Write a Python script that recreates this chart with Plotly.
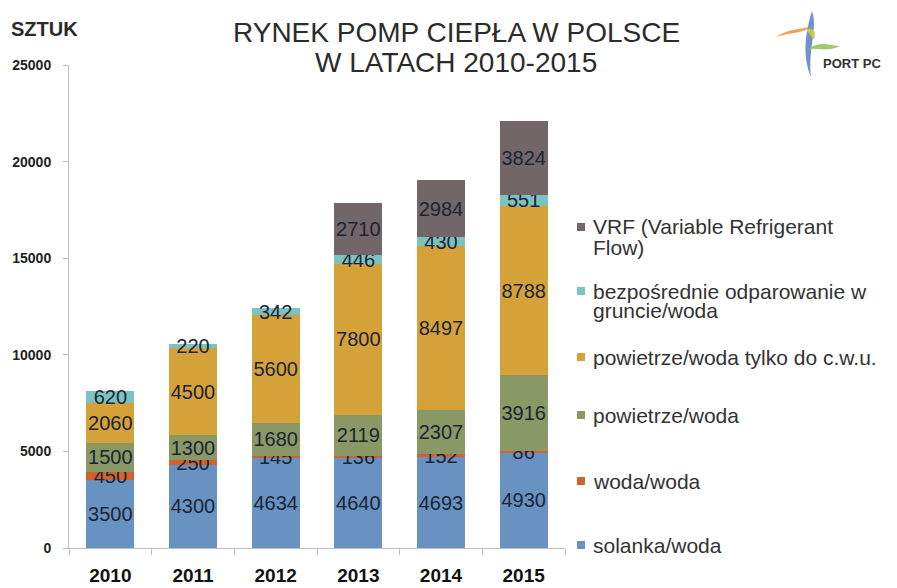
import plotly.graph_objects as go

years = ["2010", "2011", "2012", "2013", "2014", "2015"]
series_names = [
    "solanka/woda",
    "woda/woda",
    "powietrze/woda",
    "powietrze/woda tylko do c.w.u.",
    "bezpośrednie odparowanie w gruncie/woda",
    "VRF (Variable Refrigerant Flow)",
]
legend_lines = [
    ["solanka/woda"],
    ["woda/woda"],
    ["powietrze/woda"],
    ["powietrze/woda tylko do c.w.u."],
    ["bezpośrednie odparowanie w", "gruncie/woda"],
    ["VRF (Variable Refrigerant", "Flow)"],
]
solanka_woda = [3500, 4300, 4634, 4640, 4693, 4930]
woda_woda = [450, 250, 145, 136, 152, 86]
powietrze_woda = [1500, 1300, 1680, 2119, 2307, 3916]
powietrze_cwu = [2060, 4500, 5600, 7800, 8497, 8788]
bezposrednie = [620, 220, 342, 446, 430, 551]
vrf = [0, 0, 0, 2710, 2984, 3824]
y_ticks = [0, 5000, 10000, 15000, 20000, 25000]

all_series = [solanka_woda, woda_woda, powietrze_woda, powietrze_cwu, bezposrednie, vrf]
colors = ["#6792c2", "#d0622f", "#8a9866", "#d5a23a", "#7cc2bf", "#726669"]

FONT = "Liberation Sans, Arial, sans-serif"
OFF = 8  # page body margin offset
SW, SH = 897, 588
W, H = SW - OFF, SH - OFF
# plot area in screen pixels
L, R, T, B = 69, 565, 65, 548


def px(x):
    return (x - L) / (R - L)


def py(y):
    return (B - y) / (B - T)


fig = go.Figure()
for name, vals, col in zip(series_names, all_series, colors):
    fig.add_trace(go.Bar(
        x=years,
        y=[v if v else None for v in vals],
        name=name,
        marker=dict(color=col, line=dict(width=0)),
        text=[str(v) if v else "" for v in vals],
        textposition="inside",
        insidetextanchor="middle",
        textangle=0,
        textfont=dict(family=FONT, size=20, color="#1c2534"),
        showlegend=False,
        hoverinfo="x+y+name",
    ))

annotations = []
shapes = []

# Title (two lines)
for txt, yc in [("RYNEK POMP CIEPŁA W POLSCE", 32.5), ("W LATACH 2010-2015", 62.5)]:
    annotations.append(dict(
        text=txt, x=px(456), y=py(yc), xref="paper", yref="paper",
        xanchor="center", yanchor="middle", showarrow=False,
        font=dict(family=FONT, size=28, color="#2b2b2b"),
    ))
# Axis unit
annotations.append(dict(
    text="<b>SZTUK</b>", x=px(9), y=py(29), xref="paper", yref="paper",
    xanchor="left", yanchor="middle", showarrow=False,
    font=dict(family=FONT, size=20, color="#2b2b2b"),
))

# Manual legend (VRF on top)
legend_centers = [[545], [481], [415], [357], [291, 310], [227, 247]]
for lines, col, centers in zip(legend_lines, colors, legend_centers):
    for ln, yc in zip(lines, centers):
        annotations.append(dict(
            text=ln, x=px(591), y=py(yc), xref="paper", yref="paper",
            xanchor="left", yanchor="middle", align="left", showarrow=False,
            font=dict(family=FONT, size=21, color="#333333"),
        ))
    shapes.append(dict(
        type="rect", xref="paper", yref="paper",
        x0=px(577), x1=px(585), y0=py(centers[0] + 4), y1=py(centers[0] - 4),
        fillcolor=col, line=dict(width=0),
    ))


# Logo (decorative)
def path(points):
    s = "M {} {}".format(px(points[0][0]), py(points[0][1]))
    i = 1
    while i + 2 <= len(points) - 1:
        (a, b), (c, d), (e, f) = points[i], points[i + 1], points[i + 2]
        s += " C {} {}, {} {}, {} {}".format(px(a), py(b), px(c), py(d), px(e), py(f))
        i += 3
    return s + " Z"


logo = [
    ([(812, 11), (818, 28), (808, 48), (811, 77), (804, 60), (803, 40), (812, 11)], "#5b7fc0"),
    ([(776, 37), (790, 28), (800, 30), (812, 26), (802, 34), (790, 32), (776, 37)], "#e8913a"),
    ([(808, 49), (822, 40), (830, 46), (840, 46), (828, 52), (818, 48), (808, 49)], "#8cc152"),
    ([(806, 30), (812, 26), (818, 32), (814, 40), (812, 36), (808, 33), (806, 30)], "#c9d24a"),
]
for pts, col in logo:
    shapes.append(dict(type="path", xref="paper", yref="paper", path=path(pts),
                       fillcolor=col, line=dict(width=0), opacity=0.85))
annotations.append(dict(
    text="<b>PORT PC</b>", x=px(852), y=py(64), xref="paper", yref="paper",
    xanchor="center", yanchor="middle", showarrow=False,
    font=dict(family=FONT, size=13, color="#333333"),
))

fig.update_layout(
    width=W, height=H,
    margin=dict(l=L - OFF, r=W - (R - OFF), t=T - OFF, b=H - (B - OFF)),
    barmode="stack",
    bargap=0.42,
    plot_bgcolor="white",
    paper_bgcolor="white",
    annotations=annotations,
    shapes=shapes,
    uniformtext=dict(minsize=20, mode="show"),
    xaxis=dict(
        type="category",
        automargin=False,
        showline=True, linecolor="#bfbfbf", linewidth=1,
        ticks="outside", tickson="boundaries", ticklen=6, tickcolor="#bfbfbf",
        showgrid=False,
        ticklabelstandoff=10,
        tickfont=dict(family=FONT, size=19, color="#111111"),
        tickprefix="<b>", ticksuffix="</b>",
    ),
    yaxis=dict(
        automargin=False,
        range=[0, 25000],
        tickvals=y_ticks,
        ticktext=["<b>%d</b>" % v for v in y_ticks],
        showline=True, linecolor="#bfbfbf", linewidth=1,
        ticks="outside", ticklen=5, tickcolor="#bfbfbf",
        ticklabelstandoff=9,
        showgrid=False, zeroline=False,
        tickfont=dict(family=FONT, size=14, color="#222222"),
    ),
)

fig.write_html("out.html")
